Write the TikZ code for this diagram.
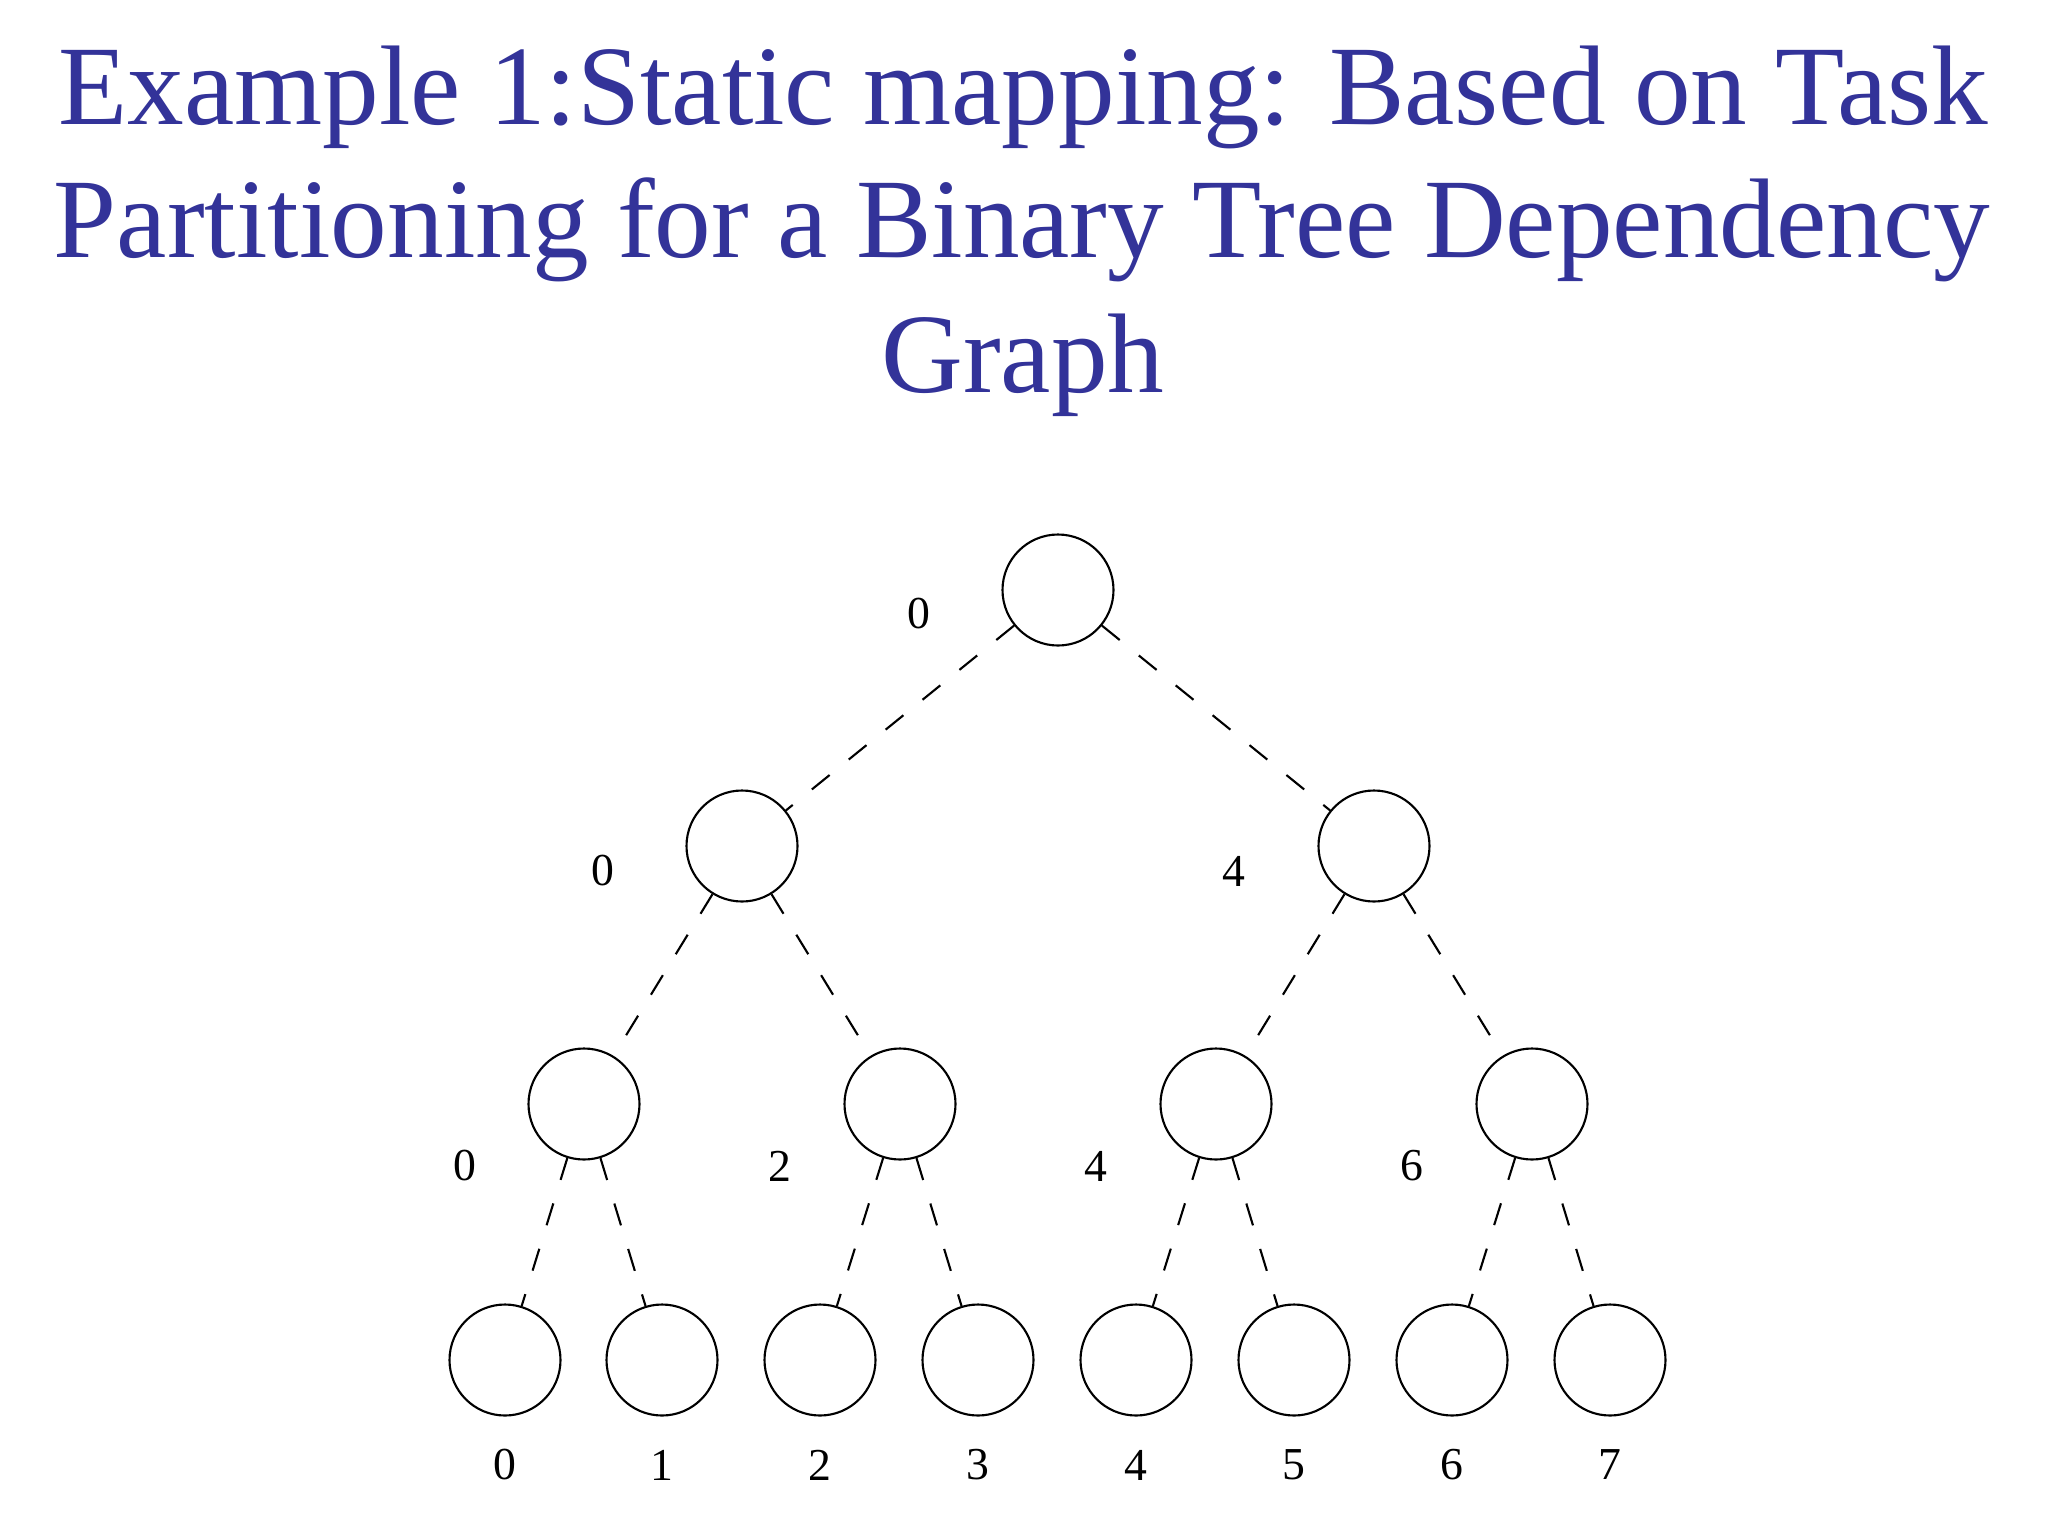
\documentclass[tikz,border=0pt]{standalone}
\usepackage{fontspec}
\setmainfont{Liberation Serif}
\definecolor{titleblue}{HTML}{333399}
\begin{document}
\begin{tikzpicture}[x=0.01cm,y=-0.01cm,
  task/.style={circle,draw=black,line width=0.6pt,minimum size=111*0.01cm,inner sep=0pt},
  dep/.style={line width=0.6pt,dash pattern=on 6.5pt off 7pt},
  lbl/.style={font=\fontsize{13}{15}\selectfont,inner sep=0pt},
  ttl/.style={font=\fontsize{32.2}{38}\selectfont,text=titleblue,anchor=base,inner sep=0pt}]
\useasboundingbox[fill=white] (0,0) rectangle (2048,1536);
% title
\node[ttl] (t1) at (1023,124) {Example 1:Static mapping: Based on Task};
\node[ttl] (t2) at (1022,257) {Partitioning for a Binary Tree Dependency};
\node[ttl] (t3) at (1023,392) {Graph};
% nodes
\node[task] (r) at (1058,590) {};
\node[task] (a0) at (742,846) {};
\node[task] (a1) at (1374,846) {};
\node[task] (b0) at (584,1104) {};
\node[task] (b1) at (900,1104) {};
\node[task] (b2) at (1216,1104) {};
\node[task] (b3) at (1532,1104) {};
\foreach \i/\x in {0/505,1/662,2/820,3/978,4/1136,5/1294,6/1452,7/1610}{
  \node[task] (c\i) at (\x,1360) {};
  \node[lbl] (lc\i) at (\x,1465) {\i};
}
% labels
\node[lbl] (lr) at (919,614) {0};
\node[lbl] (la0) at (603,871) {0};
\node[lbl] (la1) at (1234,871) {4};
\node[lbl] (lb0) at (465,1166) {0};
\node[lbl] (lb1) at (780,1166) {2};
\node[lbl] (lb2) at (1096,1166) {4};
\node[lbl] (lb3) at (1412,1166) {6};
% edges
\draw[dep] (r) -- (a0);
\draw[dep] (r) -- (a1);
\draw[dep] (a0) -- (b0);
\draw[dep] (a0) -- (b1);
\draw[dep] (a1) -- (b2);
\draw[dep] (a1) -- (b3);
\draw[dep] (b0) -- (c0);
\draw[dep] (b0) -- (c1);
\draw[dep] (b1) -- (c2);
\draw[dep] (b1) -- (c3);
\draw[dep] (b2) -- (c4);
\draw[dep] (b2) -- (c5);
\draw[dep] (b3) -- (c6);
\draw[dep] (b3) -- (c7);
\end{tikzpicture}
\end{document}
